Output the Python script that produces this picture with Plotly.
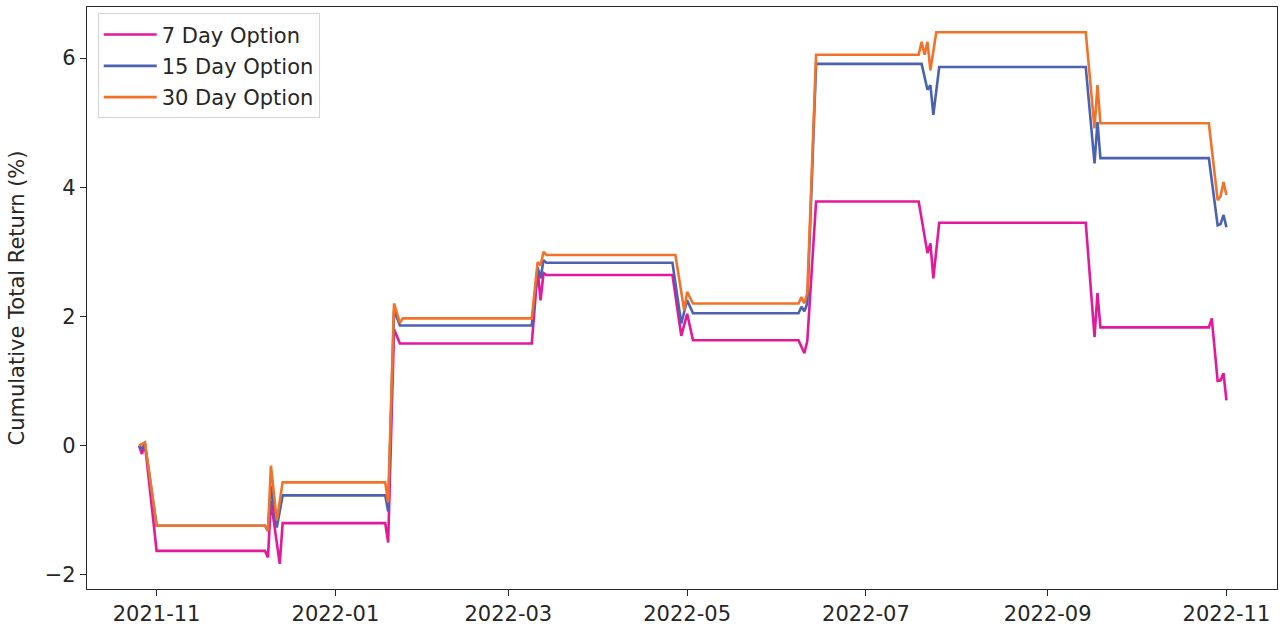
import plotly.graph_objects as go

# vertices (date, cumulative total return %)
D7 = ["2021-10-26", "2021-10-27", "2021-10-28", "2021-11-01", "2021-12-08", "2021-12-09",
      "2021-12-10", "2021-12-13", "2021-12-14", "2022-01-18", "2022-01-19", "2022-01-21",
      "2022-01-23", "2022-03-09", "2022-03-11", "2022-03-12", "2022-03-13", "2022-03-14",
      "2022-04-26", "2022-04-29", "2022-05-01", "2022-05-03", "2022-06-08", "2022-06-10",
      "2022-06-11", "2022-06-14", "2022-07-19", "2022-07-22", "2022-07-23", "2022-07-24",
      "2022-07-26", "2022-09-14", "2022-09-17", "2022-09-18", "2022-09-19", "2022-10-26",
      "2022-10-27", "2022-10-29", "2022-10-30", "2022-10-31", "2022-11-01"]
V7 = [0.0, -0.13, 0.03, -1.63, -1.63, -1.73, -0.85, -1.83, -1.20, -1.20, -1.50, 1.80,
      1.58, 1.58, 2.71, 2.25, 2.67, 2.64, 2.64, 1.70, 2.04, 1.63, 1.63, 1.43,
      1.62, 3.78, 3.78, 2.98, 3.13, 2.59, 3.45, 3.45, 1.68, 2.36, 1.83, 1.83,
      1.97, 1.00, 1.01, 1.12, 0.70]

D15 = ["2021-10-26", "2021-10-27", "2021-10-28", "2021-11-01", "2021-12-08", "2021-12-09",
       "2021-12-10", "2021-12-12", "2021-12-14", "2022-01-18", "2022-01-19", "2022-01-21",
       "2022-01-23", "2022-03-09", "2022-03-11", "2022-03-12", "2022-03-13", "2022-03-14",
       "2022-04-26", "2022-04-29", "2022-05-01", "2022-05-03", "2022-06-08", "2022-06-09",
       "2022-06-10", "2022-06-11", "2022-06-14", "2022-07-20", "2022-07-22", "2022-07-23",
       "2022-07-24", "2022-07-26", "2022-09-14", "2022-09-17", "2022-09-18", "2022-09-19",
       "2022-10-26", "2022-10-29", "2022-10-30", "2022-10-31", "2022-11-01"]
V15 = [0.0, -0.05, 0.03, -1.24, -1.24, -1.32, -0.62, -1.27, -0.77, -0.77, -1.02, 2.10,
       1.86, 1.86, 2.76, 2.59, 2.87, 2.83, 2.83, 1.89, 2.25, 2.05, 2.05, 2.15,
       2.08, 2.20, 5.91, 5.91, 5.51, 5.58, 5.12, 5.86, 5.86, 4.37, 5.01, 4.45,
       4.45, 3.41, 3.43, 3.57, 3.38]

D30 = ["2021-10-26", "2021-10-27", "2021-10-28", "2021-11-01", "2021-12-08", "2021-12-09",
       "2021-12-10", "2021-12-12", "2021-12-14", "2022-01-18", "2022-01-19", "2022-01-21",
       "2022-01-23", "2022-01-24", "2022-03-09", "2022-03-11", "2022-03-12", "2022-03-13",
       "2022-03-14", "2022-04-27", "2022-04-30", "2022-05-01", "2022-05-03", "2022-06-08",
       "2022-06-09", "2022-06-10", "2022-06-11", "2022-06-14", "2022-07-19", "2022-07-20",
       "2022-07-21", "2022-07-22", "2022-07-23", "2022-07-25", "2022-09-14", "2022-09-17",
       "2022-09-18", "2022-09-19", "2022-10-26", "2022-10-29", "2022-10-30", "2022-10-31",
       "2022-11-01"]
V30 = [0.0, 0.02, 0.05, -1.24, -1.24, -1.32, -0.31, -1.16, -0.57, -0.57, -0.88, 2.20,
       1.90, 1.97, 1.97, 2.84, 2.79, 3.00, 2.95, 2.95, 2.09, 2.38, 2.20, 2.20,
       2.30, 2.20, 2.36, 6.05, 6.05, 6.25, 6.05, 6.25, 5.81, 6.40, 6.40, 4.91,
       5.58, 4.99, 4.99, 3.80, 3.86, 4.08, 3.88]

TICK_DATES = ["2021-11-01", "2022-01-01", "2022-03-01", "2022-05-01",
              "2022-07-01", "2022-09-01", "2022-11-01"]
TICK_TEXT = ["2021-11", "2022-01", "2022-03", "2022-05", "2022-07", "2022-09", "2022-11"]

SERIES = [("7 Day Option", D7, V7, "#e3189a"),
          ("15 Day Option", D15, V15, "#4b62b3"),
          ("30 Day Option", D30, V30, "#f3722a")]

FONT = "DejaVu Sans"
INK = "#262626"

fig = go.Figure()
for i, (name, d, v, col) in enumerate(SERIES):
    fig.add_trace(go.Scatter(x=d, y=v, mode="lines", name=name, legendgroup=str(i),
                             line=dict(color=col, width=2.6)))

axis_common = dict(showline=True, linecolor=INK, linewidth=1.3, mirror=True,
                   ticks="outside", ticklen=6, tickwidth=1.3, tickcolor=INK,
                   showgrid=False, zeroline=False,
                   tickfont=dict(family=FONT, size=21, color=INK))
fig.update_xaxes(type="date", range=["2021-10-08 06:00", "2022-11-18 06:00"],
                 tickvals=TICK_DATES, ticktext=TICK_TEXT, **axis_common)
fig.update_yaxes(range=[-2.22, 6.79], tickvals=[-2, 0, 2, 4, 6],
                 title=dict(text="Cumulative Total Return (%)", standoff=14,
                            font=dict(family=FONT, size=21, color=INK)),
                 **axis_common)

fig.update_layout(
    width=1282, height=628, paper_bgcolor="white", plot_bgcolor="white",
    margin=dict(l=87, r=5, t=7, b=39, autoexpand=False),
    font=dict(family=FONT, size=21, color=INK),
    legend=dict(x=0.009, y=0.989, xanchor="left", yanchor="top", itemwidth=53,
                bgcolor="rgba(255,255,255,0.8)", bordercolor="#d4d4d4", borderwidth=1,
                tracegroupgap=1, font=dict(family=FONT, size=21, color=INK)),
)
# page body has an 8px default margin; drop it so the figure sits at the window origin
fig.write_html("out.html", config={"displayModeBar": False},
               post_script="document.body.style.margin='0';")
